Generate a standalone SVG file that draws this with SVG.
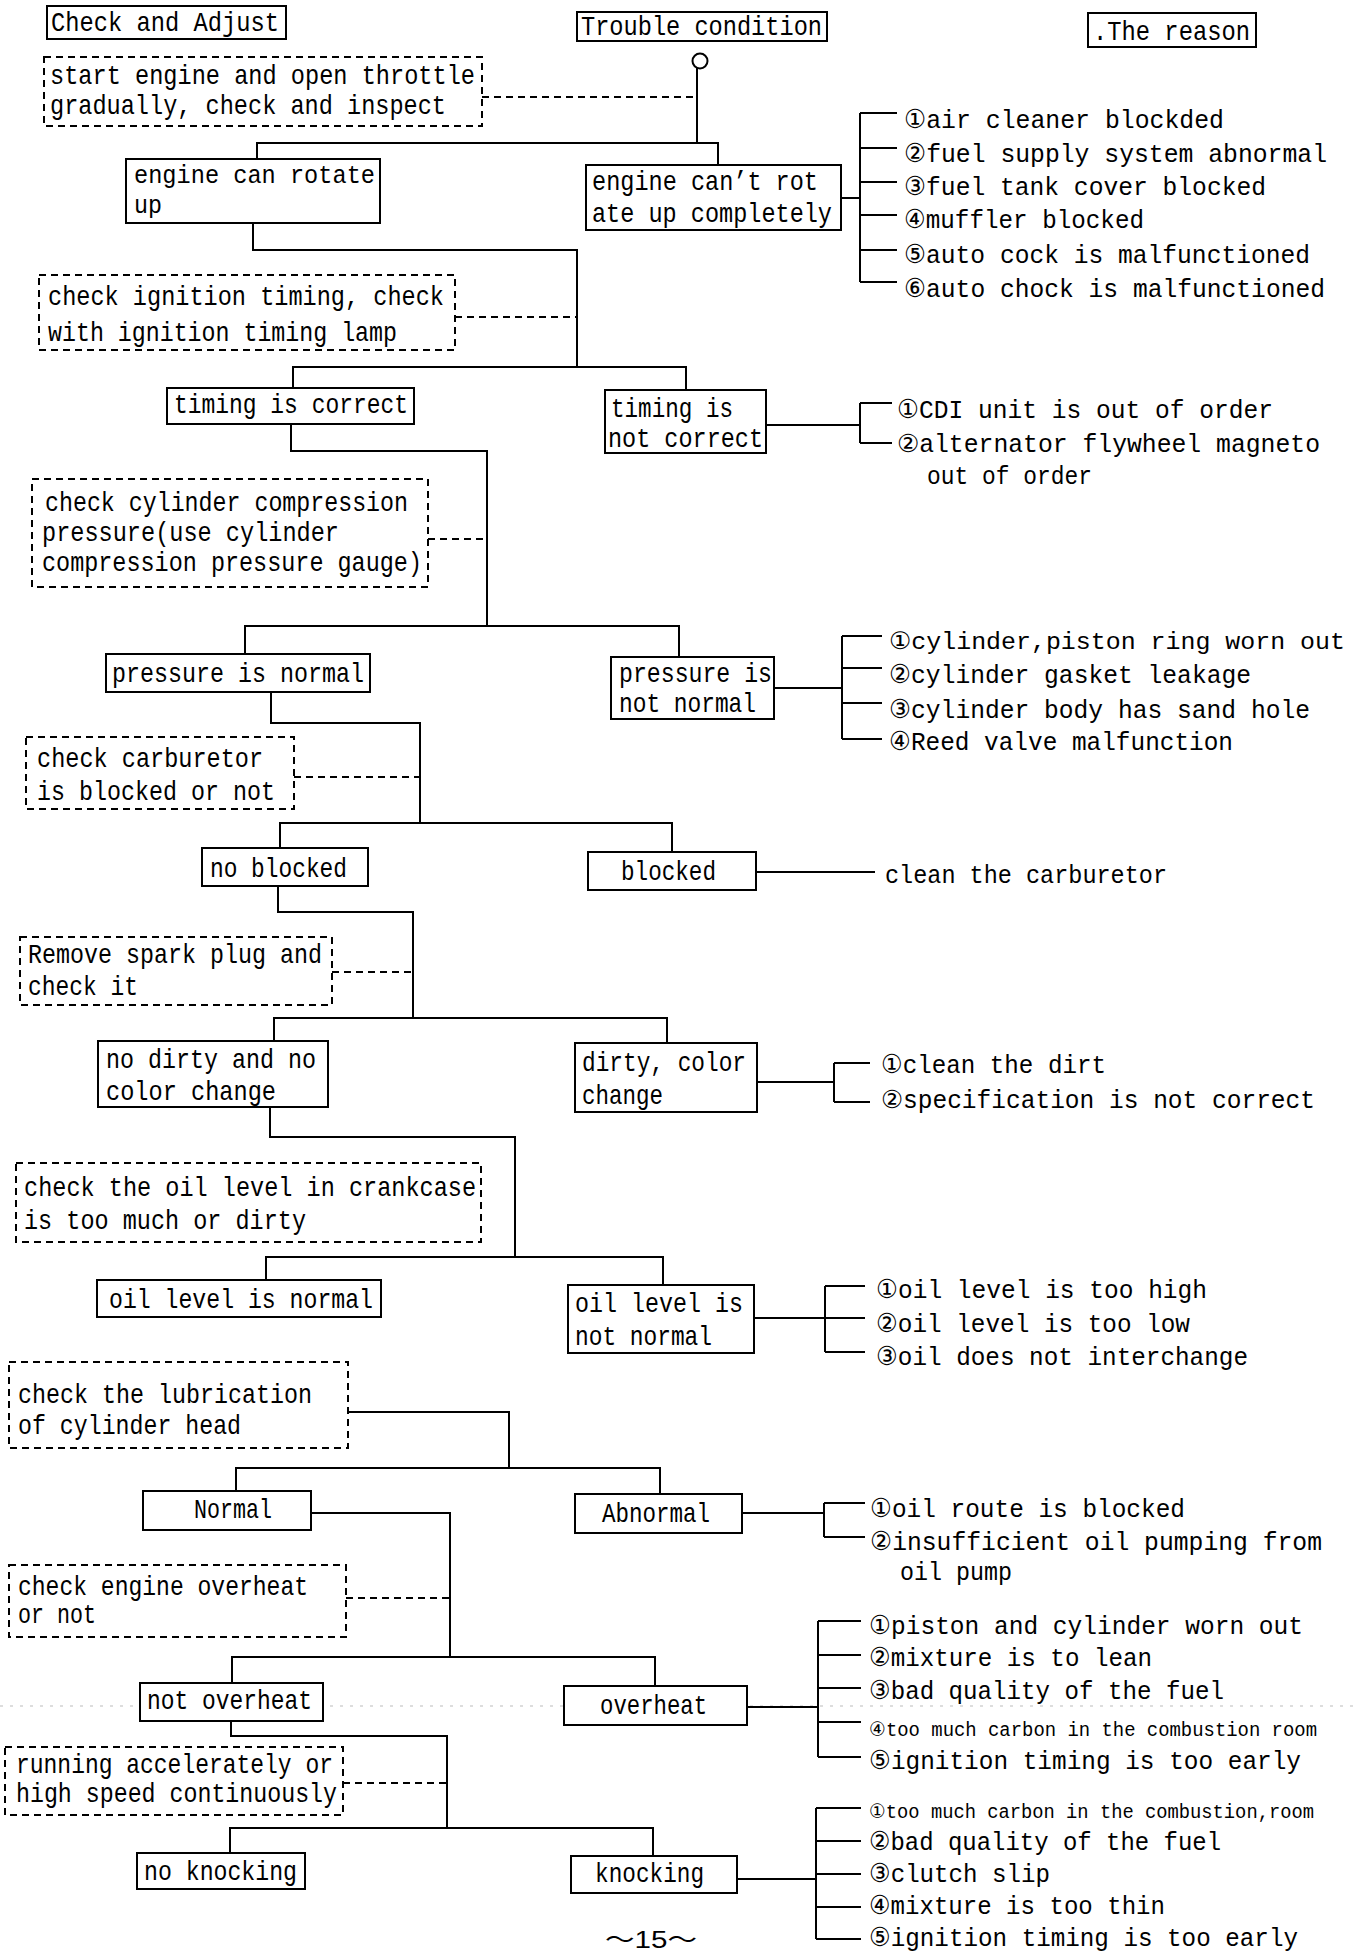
<svg xmlns="http://www.w3.org/2000/svg" width="1356" height="1954" viewBox="0 0 1356 1954">
<style>
.bg{fill:#fff}
.box{fill:#fff;stroke:#000;stroke-width:2}
.dbox{fill:none;stroke:#000;stroke-width:2;stroke-dasharray:7 5}
.c{fill:none;stroke:#000;stroke-width:2}
.dc{fill:none;stroke:#000;stroke-width:2;stroke-dasharray:7 5}
.t{font-family:"Liberation Mono","Noto Sans CJK JP",monospace;font-size:28px;fill:#000}
.r{font-family:"Liberation Mono","Noto Sans CJK JP",monospace;font-size:26px;fill:#000}
.n{font-family:"DejaVu Sans","Liberation Mono",sans-serif}
.pg{font-family:"Liberation Sans","Noto Sans CJK JP",sans-serif;font-size:24px;fill:#000}
.art{fill:none;stroke:#bbb;stroke-width:1;stroke-dasharray:3 7}
</style>
<rect class="bg" x="0" y="0" width="1356" height="1954"/>
<path class="art" d="M0 1706 H1356"/>

<g id="connectors">
<circle class="c" cx="700" cy="61" r="7.5"/>
<path class="c" d="M697 68 V143"/>
<path class="dc" d="M482 97 H697"/>
<path class="c" d="M257 159 V143 H718 V165"/>
<path class="c" d="M841 198 H860 M860 113 V282 M860 113 H897 M860 148 H897 M860 182 H897 M860 215 H897 M860 250 H897 M860 282 H897"/>
<path class="c" d="M253 223 V250 H577 V367"/>
<path class="dc" d="M455 317 H577"/>
<path class="c" d="M293 388 V367 H686 V390"/>
<path class="c" d="M766 425 H860 M860 403 V443 M860 403 H892 M860 443 H892"/>
<path class="c" d="M291 424 V451 H487 V626"/>
<path class="dc" d="M428 539 H487"/>
<path class="c" d="M245 654 V626 H679 V657"/>
<path class="c" d="M774 688 H842 M842 636 V739 M842 636 H882 M842 668 H882 M842 703 H882 M842 739 H882"/>
<path class="c" d="M271 692 V723 H420 V823"/>
<path class="dc" d="M294 777 H420"/>
<path class="c" d="M280 848 V823 H672 V852"/>
<path class="c" d="M756 872 H875"/>
<path class="c" d="M278 886 V912 H413 V1018"/>
<path class="dc" d="M332 972 H413"/>
<path class="c" d="M274 1041 V1018 H667 V1043"/>
<path class="c" d="M757 1082 H834 M834 1063 V1102 M834 1063 H870 M834 1102 H870"/>
<path class="c" d="M270 1107 V1137 H515 V1257"/>
<path class="c" d="M266 1280 V1257 H663 V1285"/>
<path class="c" d="M754 1318 H865 M825 1286 V1352 M825 1286 H865 M825 1352 H865"/>
<path class="c" d="M348 1412 H509 V1468"/>
<path class="c" d="M236 1491 V1468 H660 V1494"/>
<path class="c" d="M742 1513 H824 M824 1503 V1537 M824 1503 H865 M824 1537 H865"/>
<path class="c" d="M311 1513 H450 V1657"/>
<path class="dc" d="M346 1598 H450"/>
<path class="c" d="M232 1683 V1657 H655 V1686"/>
<path class="c" d="M747 1707 H818 M818 1621 V1757 M818 1621 H861 M818 1655 H861 M818 1688 H861 M818 1722 H861 M818 1757 H861"/>
<path class="c" d="M231 1721 V1736 H447 V1828"/>
<path class="dc" d="M343 1783 H447"/>
<path class="c" d="M230 1853 V1828 H653 V1856"/>
<path class="c" d="M737 1879 H816 M816 1808 V1939 M816 1808 H861 M816 1841 H861 M816 1874 H861 M816 1907 H861 M816 1939 H861"/>
</g>

<g id="hdr-check"><rect class="box" x="47" y="6" width="239" height="33"/><text class="t" x="51" y="31" textLength="228" lengthAdjust="spacingAndGlyphs">Check and Adjust</text></g>
<g id="hdr-trouble"><rect class="box" x="577" y="12" width="250" height="29"/><text class="t" x="581" y="35" textLength="241" lengthAdjust="spacingAndGlyphs">Trouble condition</text></g>
<g id="hdr-reason"><rect class="box" x="1088" y="13" width="168" height="34"/><text class="t" x="1093" y="40" textLength="157" lengthAdjust="spacingAndGlyphs">.The reason</text></g>

<g id="check-start"><rect class="dbox" x="44" y="57" width="438" height="69"/>
<text class="t" x="50" y="84" textLength="425" lengthAdjust="spacingAndGlyphs">start engine and open throttle</text>
<text class="t" x="50" y="114" textLength="396" lengthAdjust="spacingAndGlyphs">gradually, check and inspect</text></g>

<g id="engine-rotate"><rect class="box" x="126" y="159" width="254" height="64"/>
<text class="t" x="134" y="183" style="font-size:26px" textLength="241" lengthAdjust="spacingAndGlyphs">engine can rotate</text>
<text class="t" x="134" y="213" style="font-size:26px" textLength="28" lengthAdjust="spacingAndGlyphs">up</text></g>

<g id="engine-cant"><rect class="box" x="586" y="165" width="255" height="65"/>
<text class="t" x="592" y="190" textLength="226" lengthAdjust="spacingAndGlyphs">engine can’t rot</text>
<text class="t" x="592" y="222" textLength="240" lengthAdjust="spacingAndGlyphs">ate up completely</text></g>

<g id="reasons-cant">
<text class="r" x="904" y="128" textLength="320" lengthAdjust="spacingAndGlyphs"><tspan class="n">①</tspan>air cleaner blockded</text>
<text class="r" x="904" y="162" textLength="423" lengthAdjust="spacingAndGlyphs"><tspan class="n">②</tspan>fuel supply system abnormal</text>
<text class="r" x="904" y="195" textLength="362" lengthAdjust="spacingAndGlyphs"><tspan class="n">③</tspan>fuel tank cover blocked</text>
<text class="r" x="904" y="228" textLength="240" lengthAdjust="spacingAndGlyphs"><tspan class="n">④</tspan>muffler blocked</text>
<text class="r" x="904" y="263" textLength="406" lengthAdjust="spacingAndGlyphs"><tspan class="n">⑤</tspan>auto cock is malfunctioned</text>
<text class="r" x="904" y="297" textLength="421" lengthAdjust="spacingAndGlyphs"><tspan class="n">⑥</tspan>auto chock is malfunctioned</text>
</g>

<g id="check-ignition"><rect class="dbox" x="39" y="275" width="416" height="75"/>
<text class="t" x="48" y="305" textLength="396" lengthAdjust="spacingAndGlyphs">check ignition timing, check</text>
<text class="t" x="48" y="341" textLength="349" lengthAdjust="spacingAndGlyphs">with ignition timing lamp</text></g>

<g id="timing-correct"><rect class="box" x="167" y="388" width="247" height="36"/>
<text class="t" x="174" y="413" textLength="234" lengthAdjust="spacingAndGlyphs">timing is correct</text></g>

<g id="timing-not"><rect class="box" x="605" y="390" width="161" height="63"/>
<text class="t" x="611" y="417" textLength="122" lengthAdjust="spacingAndGlyphs">timing is</text>
<text class="t" x="608" y="447" textLength="155" lengthAdjust="spacingAndGlyphs">not correct</text></g>

<g id="reasons-timing">
<text class="r" x="897" y="418" textLength="376" lengthAdjust="spacingAndGlyphs"><tspan class="n">①</tspan>CDI unit is out of order</text>
<text class="r" x="897" y="452" style="font-size:25px" textLength="423" lengthAdjust="spacingAndGlyphs"><tspan class="n">②</tspan>alternator flywheel magneto</text>
<text class="r" x="927" y="484" textLength="165" lengthAdjust="spacingAndGlyphs">out of order</text>
</g>

<g id="check-compression"><rect class="dbox" x="32" y="479" width="396" height="108"/>
<text class="t" x="45" y="511" textLength="363" lengthAdjust="spacingAndGlyphs">check cylinder compression</text>
<text class="t" x="42" y="541" textLength="297" lengthAdjust="spacingAndGlyphs">pressure(use cylinder</text>
<text class="t" x="42" y="571" textLength="380" lengthAdjust="spacingAndGlyphs">compression pressure gauge)</text></g>

<g id="pressure-normal"><rect class="box" x="106" y="654" width="264" height="38"/>
<text class="t" x="112" y="682" textLength="252" lengthAdjust="spacingAndGlyphs">pressure is normal</text></g>

<g id="pressure-not"><rect class="box" x="611" y="657" width="163" height="62"/>
<text class="t" x="619" y="682" textLength="153" lengthAdjust="spacingAndGlyphs">pressure is</text>
<text class="t" x="619" y="712" textLength="137" lengthAdjust="spacingAndGlyphs">not normal</text></g>

<g id="reasons-pressure">
<text class="r" x="889" y="649" style="font-size:24px" textLength="456" lengthAdjust="spacingAndGlyphs"><tspan class="n">①</tspan>cylinder,piston ring worn out</text>
<text class="r" x="889" y="683" textLength="362" lengthAdjust="spacingAndGlyphs"><tspan class="n">②</tspan>cylinder gasket leakage</text>
<text class="r" x="889" y="718" textLength="421" lengthAdjust="spacingAndGlyphs"><tspan class="n">③</tspan>cylinder body has sand hole</text>
<text class="r" x="889" y="750" textLength="344" lengthAdjust="spacingAndGlyphs"><tspan class="n">④</tspan>Reed valve malfunction</text>
</g>

<g id="check-carburetor"><rect class="dbox" x="26" y="737" width="268" height="72"/>
<text class="t" x="37" y="767" textLength="226" lengthAdjust="spacingAndGlyphs">check carburetor</text>
<text class="t" x="37" y="800" textLength="238" lengthAdjust="spacingAndGlyphs">is blocked or not</text></g>

<g id="no-blocked"><rect class="box" x="202" y="848" width="166" height="38"/>
<text class="t" x="210" y="877" textLength="137" lengthAdjust="spacingAndGlyphs">no blocked</text></g>

<g id="blocked"><rect class="box" x="588" y="852" width="168" height="38"/>
<text class="t" x="621" y="880" textLength="95" lengthAdjust="spacingAndGlyphs">blocked</text></g>

<g id="reason-blocked">
<text class="r" x="885" y="883" textLength="282" lengthAdjust="spacingAndGlyphs">clean the carburetor</text>
</g>

<g id="check-spark"><rect class="dbox" x="20" y="937" width="312" height="68"/>
<text class="t" x="28" y="963" textLength="294" lengthAdjust="spacingAndGlyphs">Remove spark plug and</text>
<text class="t" x="28" y="995" textLength="110" lengthAdjust="spacingAndGlyphs">check it</text></g>

<g id="no-dirty"><rect class="box" x="98" y="1041" width="230" height="66"/>
<text class="t" x="106" y="1068" textLength="210" lengthAdjust="spacingAndGlyphs">no dirty and no</text>
<text class="t" x="106" y="1100" textLength="170" lengthAdjust="spacingAndGlyphs">color change</text></g>

<g id="dirty"><rect class="box" x="575" y="1043" width="182" height="69"/>
<text class="t" x="582" y="1071" textLength="164" lengthAdjust="spacingAndGlyphs">dirty, color</text>
<text class="t" x="582" y="1104" textLength="81" lengthAdjust="spacingAndGlyphs">change</text></g>

<g id="reasons-dirty">
<text class="r" x="881" y="1073" textLength="225" lengthAdjust="spacingAndGlyphs"><tspan class="n">①</tspan>clean the dirt</text>
<text class="r" x="881" y="1108" style="font-size:25px" textLength="434" lengthAdjust="spacingAndGlyphs"><tspan class="n">②</tspan>specification is not correct</text>
</g>

<g id="check-oil"><rect class="dbox" x="16" y="1163" width="465" height="79"/>
<text class="t" x="24" y="1196" textLength="452" lengthAdjust="spacingAndGlyphs">check the oil level in crankcase</text>
<text class="t" x="24" y="1229" textLength="282" lengthAdjust="spacingAndGlyphs">is too much or dirty</text></g>

<g id="oil-normal"><rect class="box" x="97" y="1280" width="284" height="37"/>
<text class="t" x="109" y="1308" textLength="264" lengthAdjust="spacingAndGlyphs">oil level is normal</text></g>

<g id="oil-not"><rect class="box" x="568" y="1285" width="186" height="68"/>
<text class="t" x="575" y="1312" textLength="168" lengthAdjust="spacingAndGlyphs">oil level is</text>
<text class="t" x="575" y="1345" textLength="137" lengthAdjust="spacingAndGlyphs">not normal</text></g>

<g id="reasons-oil">
<text class="r" x="876" y="1298" textLength="331" lengthAdjust="spacingAndGlyphs"><tspan class="n">①</tspan>oil level is too high</text>
<text class="r" x="876" y="1332" textLength="314" lengthAdjust="spacingAndGlyphs"><tspan class="n">②</tspan>oil level is too low</text>
<text class="r" x="876" y="1365" textLength="372" lengthAdjust="spacingAndGlyphs"><tspan class="n">③</tspan>oil does not interchange</text>
</g>

<g id="check-lubrication"><rect class="dbox" x="9" y="1362" width="339" height="86"/>
<text class="t" x="18" y="1403" textLength="294" lengthAdjust="spacingAndGlyphs">check the lubrication</text>
<text class="t" x="18" y="1434" textLength="223" lengthAdjust="spacingAndGlyphs">of cylinder head</text></g>

<g id="normal"><rect class="box" x="143" y="1491" width="168" height="39"/>
<text class="t" x="194" y="1518" textLength="78" lengthAdjust="spacingAndGlyphs">Normal</text></g>

<g id="abnormal"><rect class="box" x="575" y="1494" width="167" height="39"/>
<text class="t" x="602" y="1522" textLength="108" lengthAdjust="spacingAndGlyphs">Abnormal</text></g>

<g id="reasons-lubrication">
<text class="r" x="870" y="1517" textLength="315" lengthAdjust="spacingAndGlyphs"><tspan class="n">①</tspan>oil route is blocked</text>
<text class="r" x="870" y="1550" textLength="452" lengthAdjust="spacingAndGlyphs"><tspan class="n">②</tspan>insufficient oil pumping from</text>
<text class="r" x="900" y="1580" textLength="112" lengthAdjust="spacingAndGlyphs">oil pump</text>
</g>

<g id="check-overheat"><rect class="dbox" x="9" y="1565" width="337" height="72"/>
<text class="t" x="18" y="1595" textLength="290" lengthAdjust="spacingAndGlyphs">check engine overheat</text>
<text class="t" x="18" y="1623" textLength="78" lengthAdjust="spacingAndGlyphs">or not</text></g>

<g id="not-overheat"><rect class="box" x="140" y="1683" width="183" height="38"/>
<text class="t" x="147" y="1709" textLength="165" lengthAdjust="spacingAndGlyphs">not overheat</text></g>

<g id="overheat"><rect class="box" x="564" y="1686" width="183" height="39"/>
<text class="t" x="600" y="1714" textLength="107" lengthAdjust="spacingAndGlyphs">overheat</text></g>

<g id="reasons-overheat">
<text class="r" x="869" y="1634" textLength="434" lengthAdjust="spacingAndGlyphs"><tspan class="n">①</tspan>piston and cylinder worn out</text>
<text class="r" x="869" y="1666" textLength="283" lengthAdjust="spacingAndGlyphs"><tspan class="n">②</tspan>mixture is to lean</text>
<text class="r" x="869" y="1699" textLength="355" lengthAdjust="spacingAndGlyphs"><tspan class="n">③</tspan>bad quality of the fuel</text>
<text class="r" x="869" y="1736" style="font-size:20px" textLength="448" lengthAdjust="spacingAndGlyphs"><tspan class="n">④</tspan>too much carbon in the combustion room</text>
<text class="r" x="869" y="1769" textLength="432" lengthAdjust="spacingAndGlyphs"><tspan class="n">⑤</tspan>ignition timing is too early</text>
</g>

<g id="check-running"><rect class="dbox" x="5" y="1747" width="338" height="68"/>
<text class="t" x="16" y="1773" textLength="317" lengthAdjust="spacingAndGlyphs">running accelerately or</text>
<text class="t" x="16" y="1802" textLength="321" lengthAdjust="spacingAndGlyphs">high speed continuously</text></g>

<g id="no-knocking"><rect class="box" x="137" y="1853" width="168" height="36"/>
<text class="t" x="144" y="1880" textLength="153" lengthAdjust="spacingAndGlyphs">no knocking</text></g>

<g id="knocking"><rect class="box" x="571" y="1856" width="166" height="37"/>
<text class="t" x="595" y="1882" textLength="109" lengthAdjust="spacingAndGlyphs">knocking</text></g>

<g id="reasons-knocking">
<text class="r" x="869" y="1818" style="font-size:20px" textLength="445" lengthAdjust="spacingAndGlyphs"><tspan class="n">①</tspan>too much carbon in the combustion,room</text>
<text class="r" x="869" y="1850" textLength="352" lengthAdjust="spacingAndGlyphs"><tspan class="n">②</tspan>bad quality of the fuel</text>
<text class="r" x="869" y="1882" textLength="181" lengthAdjust="spacingAndGlyphs"><tspan class="n">③</tspan>clutch slip</text>
<text class="r" x="869" y="1914" textLength="296" lengthAdjust="spacingAndGlyphs"><tspan class="n">④</tspan>mixture is too thin</text>
<text class="r" x="869" y="1946" textLength="429" lengthAdjust="spacingAndGlyphs"><tspan class="n">⑤</tspan>ignition timing is too early</text>
</g>

<text class="pg" x="605" y="1948" textLength="92" lengthAdjust="spacingAndGlyphs">～15～</text>
</svg>
